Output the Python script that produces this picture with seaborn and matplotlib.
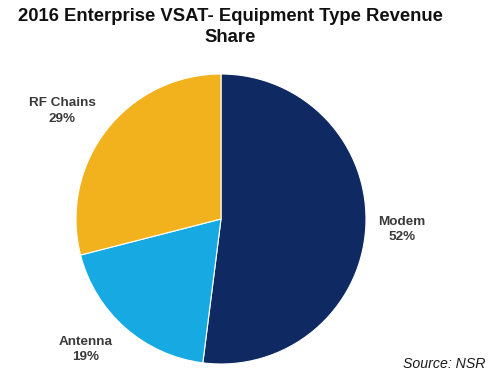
import matplotlib
matplotlib.use("Agg")
import matplotlib.pyplot as plt
import seaborn as sns

# data
segments = ["Modem", "Antenna", "RF Chains"]
shares = [52, 19, 29]
seg_colors = ["#0f2a62", "#17a9e1", "#f1b21d"]
title = "2016 Enterprise VSAT- Equipment Type Revenue\nShare"
source = "Source: NSR"

sns.set_theme(style="white")
plt.rcParams["font.family"] = ["Liberation Sans", "DejaVu Sans"]

W, H = 500, 379
fig = plt.figure(figsize=(W / 100, H / 100), dpi=100)

# pie centre (221, 219) px from top-left, radius 145 px
cx, cy, r = 221, 219, 145
ax = fig.add_axes([(cx - r) / W, (H - cy - r) / H, 2 * r / W, 2 * r / H])
ax.pie(shares, colors=sns.color_palette(seg_colors), startangle=90,
       counterclock=False, radius=1,
       wedgeprops=dict(edgecolor="white", linewidth=0.8))
ax.set_xlim(-1, 1)
ax.set_ylim(-1, 1)
ax.set_aspect("auto")
ax.axis("off")

# label positions in pixels (x, y of first line centre)
label_pos = {"Modem": (402, 222), "Antenna": (86, 342), "RF Chains": (62, 103)}
for name, val in zip(segments, shares):
    x, y = label_pos[name]
    fig.text(x / W, 1 - y / H, name, ha="center", va="center",
             fontsize=9.7, fontweight="bold", color="#3a3a3a")
    fig.text(x / W, 1 - (y + 15.5) / H, f"{val}%", ha="center", va="center",
             fontsize=9.7, fontweight="bold", color="#3a3a3a")

title_lines = title.split("\n")
fig.text(230 / W, 1 - 16.5 / H, title_lines[0],
         ha="center", va="center", fontsize=13.3, fontweight="bold", color="#111111")
fig.text(230 / W, 1 - 38 / H, title_lines[1],
         ha="center", va="center", fontsize=13.3, fontweight="bold", color="#111111")

fig.text(444 / W, 1 - 364 / H, source, ha="center", va="center",
         fontsize=10.2, style="italic", color="#1a1a1a")

fig.savefig("out.png", dpi=100)
